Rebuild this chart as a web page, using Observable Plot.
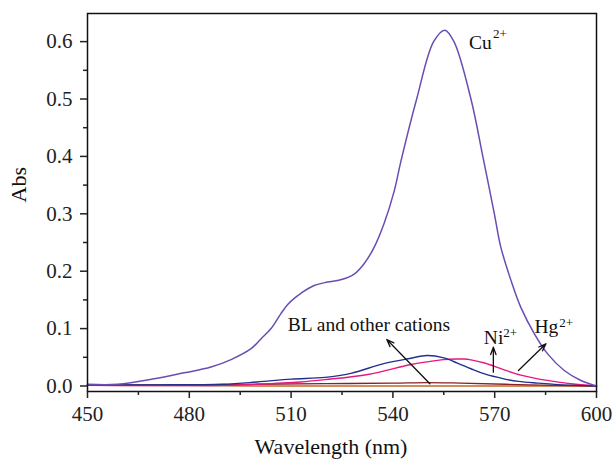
<!DOCTYPE html>
<html>
<head>
<meta charset="utf-8">
<script src="https://cdn.jsdelivr.net/npm/d3@7"></script>
<script src="https://cdn.jsdelivr.net/npm/@observablehq/plot@0.6"></script>
<style>
  html, body { margin: 0; padding: 0; background: #fff; }
  #chart svg { display: block; }
</style>
</head>
<body>
<div id="chart"></div>
<script>
// Wavelengths (nm) and absorbance per series
const cuWl = [450,458.8,469.7,478.5,486.4,492.3,498.2,501.1,504.1,507,509,511,513,516.8,520.7,524.6,528.6,531.5,534.5,537.4,540.4,542.3,547,552,555.3,558,563,566.5,569.9,571.8,574.8,577.7,581.7,585.6,590.5,595.4,600];
const cuAbs = [0.003,0.003,0.0125,0.023,0.033,0.046,0.065,0.082,0.10,0.126,0.142,0.153,0.162,0.175,0.181,0.185,0.195,0.213,0.242,0.283,0.34,0.39,0.50,0.60,0.62,0.60,0.50,0.40,0.30,0.242,0.184,0.137,0.091,0.056,0.027,0.0096,0.0];

const niWl = [450,470,490,500,510,520,527.6,537.3,545,550,555,559,563,567,572.7,577,582.7,590,600];
const niAbs = [0.002,0.002,0.003,0.007,0.012,0.015,0.022,0.039,0.048,0.053,0.049,0.040,0.030,0.021,0.0125,0.008,0.005,0.002,0.0];

const hgWl = [450,490,500,512.8,520,532.6,545,550,555,559,561,563,567,572.8,577.7,582.7,587.5,592.5,600];
const hgAbs = [0.001,0.001,0.003,0.007,0.011,0.02,0.037,0.042,0.046,0.047,0.047,0.0455,0.040,0.028,0.019,0.0125,0.008,0.004,0.0];

const blWl = [450,480,500,520,540,550,560,580,600];
const blAbs = [0.002,0.002,0.003,0.004,0.005,0.006,0.005,0.002,0.0];

const otherWl = [450,480,500,550,600];
const otherAbs = [0.001,0.0005,0.0,0.0,0.0];

const xTicks = [450,480,510,540,570,600];
const xMinor = [465,495,525,555,585];
const yTicks = [0,0.1,0.2,0.3,0.4,0.5,0.6];
const yMinor = [0.05,0.15,0.25,0.35,0.45,0.55];

// Annotation labels (data units)
const labels = [
  {x: 562.4, y: 0.588, text: "Cu"},
  {x: 509, y: 0.096, text: "BL and other cations"},
  {x: 566.8, y: 0.073, text: "Ni"},
  {x: 581.7, y: 0.092, text: "Hg"}
];
const supLabels = [
  {x: 569.5, y: 0.607, text: "2+"},
  {x: 572.5, y: 0.085, text: "2+"},
  {x: 589.0, y: 0.1025, text: "2+"}
];
const arrows = [
  {x1: 550.9, y1: 0.004, x2: 538.2, y2: 0.081},
  {x1: 569.6, y1: 0.024, x2: 569.6, y2: 0.0676},
  {x1: 577.0, y1: 0.027, x2: 585.1, y2: 0.0735}
];

const toRows = (wl, v) => wl.map((w, i) => ({wl: w, abs: v[i]}));
const font = "Liberation Serif, Times New Roman, serif";

const chart = Plot.plot({
  width: 613,
  height: 460,
  marginLeft: 87,
  marginRight: 17,
  marginTop: 13,
  marginBottom: 69,
  style: {fontFamily: font, color: "#222", background: "#fff"},
  x: {domain: [450, 600]},
  y: {domain: [-0.0096, 0.649]},
  marks: [
    Plot.line(toRows(otherWl, otherAbs), {x: "wl", y: "abs", stroke: "#c06a2b", strokeWidth: 1.3}),
    Plot.line(toRows(blWl, blAbs), {x: "wl", y: "abs", stroke: "#8b1f22", strokeWidth: 1.3, curve: "catmull-rom"}),
    Plot.line(toRows(hgWl, hgAbs), {x: "wl", y: "abs", stroke: "#e8177e", strokeWidth: 1.4, curve: "catmull-rom"}),
    Plot.line(toRows(niWl, niAbs), {x: "wl", y: "abs", stroke: "#23308e", strokeWidth: 1.4, curve: "catmull-rom"}),
    Plot.line(toRows(cuWl, cuAbs), {x: "wl", y: "abs", stroke: "#6a4db3", strokeWidth: 1.5, curve: "catmull-rom"}),
    Plot.arrow(arrows, {x1: "x1", y1: "y1", x2: "x2", y2: "y2", stroke: "#111", strokeWidth: 1.3, headLength: 9, headAngle: 40}),
    Plot.text(labels, {x: "x", y: "y", text: "text", textAnchor: "start", lineAnchor: "bottom", fontSize: 19.5, fill: "#111", fontFamily: font}),
    Plot.text(supLabels, {x: "x", y: "y", text: "text", textAnchor: "start", lineAnchor: "bottom", fontSize: 13, fill: "#111", fontFamily: font}),
    Plot.frame({stroke: "#111", strokeWidth: 1.5}),
    Plot.axisX({ticks: xTicks, tickSize: 7, tickPadding: 8, fontSize: 21, label: null, tickFormat: d3.format("d"), strokeWidth: 1.5}),
    Plot.axisX({ticks: xMinor, tickSize: 4, tickFormat: () => "", label: null, strokeWidth: 1.5}),
    Plot.axisY({ticks: yTicks, tickSize: 7, tickPadding: 8, fontSize: 21, label: null, tickFormat: d3.format(".1f"), strokeWidth: 1.5}),
    Plot.axisY({ticks: yMinor, tickSize: 4, tickFormat: () => "", label: null, strokeWidth: 1.5}),
    Plot.text(["Abs"], {frameAnchor: "left", textAnchor: "start", dx: -69, rotate: -90, fontSize: 22, fill: "#111", fontFamily: font}),
    Plot.text(["Wavelength (nm)"], {frameAnchor: "bottom", lineAnchor: "middle", dx: -11, dy: 55, fontSize: 22, fill: "#111", fontFamily: font})
  ]
});
document.getElementById("chart").appendChild(chart);
</script>
</body>
</html>
